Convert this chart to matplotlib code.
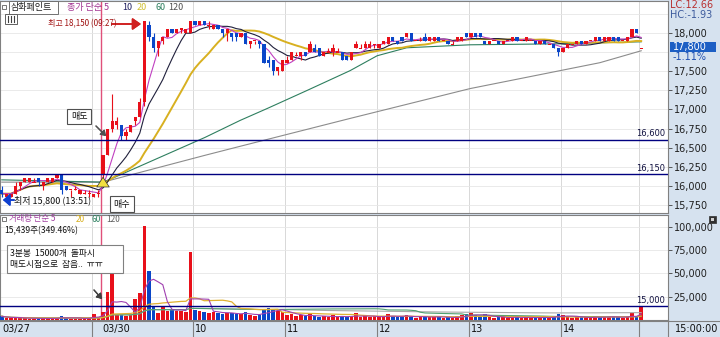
import matplotlib
matplotlib.use("Agg")
import matplotlib.pyplot as plt
import numpy as np
import pandas as pd
from matplotlib.patches import Rectangle
from matplotlib.lines import Line2D

plt.rcParams['font.family'] = ['Noto Sans CJK KR', 'DejaVu Sans']

# ---------------- data ----------------
# 03/27 (last bars of the previous session), 3-minute candles
d27_open  = [15950, 15850, 15850, 15900, 16000, 16050, 16050, 16050, 16100, 16000, 16050,
             16050, 16100, 16150, 16000, 15950, 15950, 15900, 15900, 15900, 15850, 15900]
d27_high  = [16000, 15900, 15900, 16050, 16050, 16100, 16100, 16100, 16100, 16050, 16100,
             16100, 16150, 16150, 16000, 15950, 16000, 15950, 15950, 15950, 15900, 15950]
d27_low   = [15850, 15800, 15850, 15900, 15950, 16050, 16050, 16050, 16000, 15950, 16050,
             16050, 16100, 15900, 15950, 15850, 15950, 15900, 15900, 15850, 15850, 15850]
d27_close = [15900, 15900, 15900, 16000, 16050, 16100, 16100, 16050, 16050, 16050, 16100,
             16100, 16150, 15950, 15950, 15950, 15950, 15950, 15900, 15900, 15900, 15900]
d27_vol   = [4000, 2500, 2000, 2500, 2000, 2000, 1500, 1500, 2000, 2000, 1500,
             1500, 2000, 4500, 2000, 1500, 1500, 1500, 2000, 2500, 6500, 3000]

# 03/30 session, 09:00 .. 15:00
d30_open = [16150, 16400, 16750, 16800, 16800, 16650, 16700, 16850, 16900, 17100,
            18100, 17950, 17800, 17900, 17950, 18050, 18000, 18050, 18000, 18000,
            18150, 18100, 18150, 18100, 18050, 18100, 18050, 18000, 18000, 18000,
            17950, 18000, 17850, 17900, 17900, 17850, 17650, 17650, 17500, 17500,
            17600, 17650, 17700, 17700, 17750, 17750, 17800, 17800, 17700, 17750,
            17750, 17750, 17750, 17700, 17650, 17800, 17800, 17800, 17800, 17850,
            17800, 17850, 17850, 17950, 17900, 17950, 17950, 18000, 17900, 17900,
            17950, 17900, 17900, 17950, 17900, 17900, 17850, 17900, 17900, 18000,
            17950, 18000, 18000, 17900, 17850, 17900, 17900, 17850, 17900, 17900,
            17950, 17900, 17900, 17900, 17900, 17850, 17900, 17850, 17850, 17800,
            17750, 17800, 17850, 17850, 17900, 17850, 17900, 17900, 17950, 17900,
            17900, 17950, 17950, 17900, 17900, 17950, 18050, 17800]
d30_high = [16400, 16750, 17200, 16900, 16800, 16750, 16800, 16900, 17150, 18150,
            18150, 18000, 17900, 17950, 18050, 18050, 18050, 18050, 18050, 18150,
            18150, 18150, 18150, 18150, 18100, 18100, 18050, 18050, 18000, 18000,
            18000, 18000, 17900, 17900, 17900, 17850, 17700, 17650, 17550, 17650,
            17700, 17750, 17750, 17750, 17750, 17900, 17850, 17800, 17750, 17800,
            17850, 17800, 17750, 17700, 17750, 17900, 17850, 17900, 17900, 17850,
            17850, 17900, 17950, 17950, 17900, 17950, 18000, 18000, 17900, 17950,
            18000, 17950, 17950, 17950, 17900, 17900, 17900, 17950, 17950, 18000,
            18000, 18000, 18000, 17900, 17900, 17900, 17900, 17900, 17900, 17950,
            17950, 17900, 17950, 17900, 17900, 17900, 17900, 17850, 17850, 17800,
            17800, 17850, 17850, 17900, 17900, 17900, 17900, 17950, 17950, 17950,
            17950, 17950, 17950, 17900, 17950, 18050, 18050, 17800]
d30_low  = [16050, 16400, 16700, 16750, 16600, 16600, 16700, 16800, 16900, 17050,
            17900, 17750, 17700, 17850, 17950, 18000, 18000, 18000, 18000, 18000,
            18100, 18100, 18100, 18050, 18050, 18050, 17950, 17900, 17900, 17900,
            17950, 17850, 17800, 17850, 17800, 17600, 17550, 17450, 17450, 17500,
            17600, 17650, 17700, 17650, 17700, 17750, 17750, 17700, 17700, 17750,
            17700, 17750, 17650, 17650, 17650, 17800, 17800, 17800, 17800, 17800,
            17800, 17850, 17850, 17900, 17850, 17900, 17950, 17900, 17900, 17900,
            17900, 17900, 17900, 17900, 17900, 17850, 17850, 17900, 17900, 17950,
            17950, 17950, 17950, 17850, 17850, 17900, 17850, 17850, 17900, 17900,
            17900, 17900, 17900, 17900, 17850, 17850, 17850, 17850, 17800, 17700,
            17750, 17800, 17850, 17850, 17850, 17850, 17900, 17900, 17900, 17900,
            17900, 17900, 17900, 17900, 17900, 17950, 18000, 17800]
d30_close = [16400, 16750, 16850, 16850, 16650, 16700, 16800, 16900, 17100, 18150,
             17950, 17800, 17900, 17950, 18050, 18000, 18050, 18050, 18050, 18150,
             18100, 18150, 18100, 18100, 18100, 18050, 18000, 18050, 17950, 17950,
             18000, 17850, 17900, 17900, 17850, 17600, 17600, 17500, 17550, 17650,
             17650, 17750, 17700, 17750, 17700, 17850, 17750, 17700, 17750, 17750,
             17800, 17750, 17650, 17650, 17750, 17850, 17800, 17850, 17850, 17850,
             17850, 17900, 17950, 17900, 17850, 17900, 18000, 17900, 17900, 17900,
             17900, 17950, 17950, 17900, 17900, 17850, 17850, 17950, 17950, 17950,
             18000, 17950, 17950, 17850, 17900, 17900, 17850, 17900, 17900, 17950,
             17900, 17900, 17950, 17900, 17850, 17900, 17850, 17850, 17800, 17750,
             17800, 17850, 17850, 17900, 17850, 17900, 17900, 17950, 17900, 17950,
             17950, 17900, 17900, 17900, 17950, 18050, 18000, 17800]
d30_vol = [9000, 30000, 49000, 5000, 6000, 4000, 5000, 22000, 29000, 101000,
           52000, 14000, 8000, 14000, 10000, 11000, 10000, 10000, 9000, 73000,
           11000, 10000, 9000, 8000, 9000, 8000, 6000, 8000, 7000, 6000,
           6000, 9000, 5000, 4000, 5000, 12000, 13000, 11000, 10000, 9000,
           5000, 6000, 4000, 5000, 4000, 6000, 4000, 3000, 4000, 3000,
           5000, 3000, 4000, 3000, 4000, 7000, 3000, 4000, 3000, 4000,
           4000, 3000, 6000, 4000, 3000, 4000, 5000, 4000, 2000, 3000,
           4000, 3000, 4000, 3000, 2000, 3000, 2000, 4000, 5000, 6000,
           7000, 5000, 4000, 6000, 3000, 2000, 3000, 3000, 2000, 4000,
           3000, 2000, 3000, 2000, 3000, 3000, 3000, 2000, 4000, 6000,
           5000, 4000, 2000, 3000, 3000, 3000, 2000, 4000, 3000, 3000,
           4000, 3000, 3000, 2000, 4000, 7500, 3000, 15439]

# long moving averages (bar index, price)
ma60_idx = [-22, 0, 2.6, 12.4, 22.2, 29.8, 35.7, 44.3, 53.7, 59.6, 66, 79.8, 99.3, 117]
ma60_val = [16080, 16050, 16115, 16375, 16635, 16856, 17012, 17246, 17506, 17701,
            17805, 17844, 17857, 17883]
ma120_idx = [-22, 0, 22.2, 29.8, 53.7, 79.8, 108, 117]
ma120_val = [16050, 16050, 16401, 16518, 16882, 17272, 17610, 17766]

price_ticks = [15750, 16000, 16250, 16500, 16750, 17000, 17250, 17500, 18000]
vol_ticks = [25000, 50000, 75000, 100000]
x_labels = ['03/27', '03/30', '10', '11', '12', '13', '14']
sell_price, buy_price, vol_line = 16600, 16150, 15000

# ---------------- layout helpers ----------------
W, H = 720, 337
def fx(x): return x / W
def fy(y): return 1 - y / H
X0, STEP = 103.0, 4.6          # pixel of bar 0 and bar spacing
def bpx(i): return X0 + STEP * i

RED, BLUE = '#e8101a', '#0a46c8'
BG = '#d6e2ef'

fig = plt.figure(figsize=(7.2, 3.37), dpi=100, facecolor=BG)
ax_p = fig.add_axes([0, fy(213), fx(668), 212 / H])
ax_v = fig.add_axes([0, fy(320), fx(668), 105 / H])

xs27 = np.arange(-len(d27_close), 0)
xs30 = np.arange(len(d30_close))
xs = np.concatenate([xs27, xs30])
O = np.array(d27_open + d30_open, float)
Hh = np.array(d27_high + d30_high, float)
L = np.array(d27_low + d30_low, float)
C = np.array(d27_close + d30_close, float)
V = np.array(d27_vol + d30_vol, float)
cols = [RED if c >= o else BLUE for o, c in zip(O, C)]

xlim = (-X0 / STEP, (668 - X0) / STEP)
for ax in (ax_p, ax_v):
    ax.set_facecolor('white')
    ax.set_xlim(*xlim)
    for s in ax.spines.values():
        s.set_color('#808080'); s.set_linewidth(0.8)
    ax.set_xticks([])
    ax.yaxis.tick_right()
    ax.tick_params(axis='y', direction='out', length=3, width=0.6, color='#404040',
                   labelsize=7, pad=1, labelcolor='#202020')
    ax.tick_params(axis='y', which='both', labelfontfamily='DejaVu Sans')
    for g in [-2.3, 19.5, 39.5, 59.5, 79.5, 99.5, 116.5]:
        ax.axvline(g, color='#d8d8d8', lw=0.7, zorder=0)
    ax.axvline(-0.5, color='#e0507a', lw=1.0, zorder=1)

# price panel
ax_p.set_ylim(18000 - (213 - 32) * 13.0, 18000 + 32 * 13.0)
for t in np.arange(15750, 18251, 250):
    ax_p.axhline(t, color='#e6e6e6', lw=0.6, zorder=0)
ax_p.set_yticks(price_ticks)
ax_p.set_yticklabels([f'{t:,}' for t in price_ticks])

ax_p.vlines(xs, L, Hh, colors=cols, lw=0.8, zorder=3)
bh = np.maximum(np.abs(C - O), 14)
bb = np.minimum(O, C) - np.where(C == O, 7, 0)
ax_p.bar(xs, bh, bottom=bb, width=0.72, color=cols, lw=0, zorder=4)

cs = pd.Series(C)
ax_p.plot(ma120_idx, ma120_val, color='#8c8c8c', lw=0.8, zorder=2)
ax_p.plot(ma60_idx, ma60_val, color='#2e7f5f', lw=0.8, zorder=2)
ax_p.plot(xs, cs.rolling(20, min_periods=1).mean(), color='#d8b020', lw=1.4, zorder=2)
ax_p.plot(xs, cs.rolling(10, min_periods=1).mean(), color='#20203c', lw=0.8, zorder=2)
ax_p.plot(xs, cs.rolling(5, min_periods=1).mean(), color='#c040c0', lw=0.8, zorder=2)

for lv in (sell_price, buy_price):
    ax_p.axhline(lv, color='#000080', lw=1.0, zorder=5)
    ax_p.text(xlim[1] - 0.6, lv + 25, f'{lv:,}', ha='right', va='bottom', fontsize=6,
              color='#101040', family='DejaVu Sans')

# buy marker arrow
ax_p.annotate('', xy=(0, buy_price), xytext=(0, 15960),
              arrowprops=dict(arrowstyle='simple,head_width=0.9,head_length=0.7,tail_width=0.45',
                              fc='#f2e040', ec='#303030', lw=0.5), zorder=6)

# volume panel
ax_v.set_ylim(0, 105 / 0.9333 * 1000)
for t in vol_ticks:
    ax_v.axhline(t, color='#e6e6e6', lw=0.6, zorder=0)
ax_v.set_yticks(vol_ticks)
ax_v.set_yticklabels([f'{t:,}' for t in vol_ticks])
ax_v.bar(xs, V, width=0.75, color=cols, lw=0, zorder=3)
vs = pd.Series(V)
ax_v.plot(xs, vs.rolling(120, min_periods=1).mean(), color='#a8a8a8', lw=0.8, zorder=4)
ax_v.plot(xs, vs.rolling(60, min_periods=1).mean(), color='#50a070', lw=0.8, zorder=4)
ax_v.plot(xs, vs.rolling(20, min_periods=1).mean(), color='#e0b030', lw=0.9, zorder=4)
ax_v.plot(xs, vs.rolling(5, min_periods=1).mean(), color='#a040b0', lw=0.8, zorder=4)
ax_v.axhline(vol_line, color='#000080', lw=1.0, zorder=5)
ax_v.text(xlim[1] - 0.6, vol_line + 600, f'{vol_line:,}', ha='right', va='bottom', fontsize=6,
          color='#101040', family='DejaVu Sans')

# ---------------- texts ----------------
def ftext(x, y, s, **kw):
    kw.setdefault('va', 'center'); kw.setdefault('ha', 'left')
    return fig.text(fx(x), fy(y), s, **kw)

def frect(x0, y0, x1, y1, **kw):
    r = Rectangle((fx(x0), fy(y1)), fx(x1) - fx(x0), fy(y0) - fy(y1),
                  transform=fig.transFigure, **kw)
    fig.add_artist(r)

def farrow(x0, y0, x1, y1, color, lw=0.8, hw=3.0, hl=5.0):
    fig.add_artist(plt.annotate('', xy=(fx(x1), fy(y1)), xytext=(fx(x0), fy(y0)),
                                xycoords='figure fraction', textcoords='figure fraction',
                                arrowprops=dict(arrowstyle=f'-|>,head_width={hw/10},head_length={hl/10}',
                                                color=color, lw=lw, shrinkA=0, shrinkB=0)))

# price legend
frect(2, 5, 6, 9, fill=False, ec='#606060', lw=0.6)
frect(9, 1, 58, 14, facecolor='white', ec='#707070', lw=0.7)
ftext(11, 7.5, '삼화페인트', fontsize=6.5, color='#202020')
ftext(67, 7.5, '종가 단순 5', fontsize=6.5, color='#a03090')
ftext(122, 7.5, '10', fontsize=6.5, color='#202060')
ftext(137, 7.5, '20', fontsize=6.5, color='#d0c030')
ftext(156, 7.5, '60', fontsize=6.5, color='#2e7f5f')
ftext(168, 7.5, '120', fontsize=6.5, color='#505050')
frect(5, 14, 17, 24, facecolor='white', ec='#606060', lw=0.7)
for xx in (8, 11, 14):
    fig.add_artist(Line2D([fx(xx), fx(xx)], [fy(16), fy(22)], color='#404040', lw=0.8))

# high / low annotations
ftext(48, 24, '최고 18,150 (09:27)', fontsize=5.8, color='#a01010')
farrow(112, 24, 141, 24, '#d02020', lw=1.2, hw=3.5, hl=5)
farrow(14, 200, 3, 200, '#1040d0', lw=1.2, hw=3.5, hl=4)
ftext(14, 200, '최저 15,800 (13:51)', fontsize=6.5, color='#101010')

# sell / buy boxes
frect(67, 109, 91, 124, facecolor='white', ec='#505050', lw=0.8)
ftext(79, 116.5, '매도', fontsize=6.5, ha='center', color='#101010')
farrow(96, 126, 106, 136, '#505050', lw=0.9, hw=2.0, hl=3.0)
frect(110, 196, 134, 212, facecolor='white', ec='#505050', lw=0.8)
ftext(122, 204, '매수', fontsize=6.5, ha='center', color='#101010')

# volume legend
frect(2, 217, 6, 221, fill=False, ec='#606060', lw=0.6)
ftext(9, 219, '거래량 단순 5', fontsize=6, color='#a040a0')
ftext(76, 219, '20', fontsize=6, color='#d8b020')
ftext(91, 219, '60', fontsize=6, color='#2e8060')
ftext(106, 219, '120', fontsize=6, color='#606060')
ftext(4, 231, '15,439주(349.46%)', fontsize=6.2, color='#101010')

frect(7, 245, 123, 273, facecolor='white', ec='#808080', lw=0.8)
ftext(10, 253.5, '3분봉  15000개  돌파시', fontsize=6.3, color='#101010')
ftext(10, 264.5, '매도시점으로  잡음..  ㅠㅠ', fontsize=6.3, color='#101010')
farrow(94, 290, 102, 299, '#404040', lw=0.9, hw=2.0, hl=3.0)

# right panel
ftext(670, 5, 'LC:12.66', fontsize=7, color='#b83030', family='DejaVu Sans')
ftext(670, 15, 'HC:-1.93', fontsize=7, color='#3c5a9c', family='DejaVu Sans')
frect(670, 42, 716, 52, facecolor='#1d5fc4', ec='none')
ftext(673, 47, '17,800', fontsize=7, color='white', family='DejaVu Sans')
ftext(673, 57.5, '-1.11%', fontsize=7, color='#2050b0', family='DejaVu Sans')
frect(709, 216, 716, 223, facecolor='#303030', ec='#303030', lw=0.5)
frect(711, 218, 714, 221, facecolor='#d0d0d0', ec='none')

# bottom time strip
for xp in [bpx(-2.3), bpx(19.5), bpx(39.5), bpx(59.5), bpx(79.5), bpx(99.5), bpx(116.5), 668]:
    fig.add_artist(Line2D([fx(xp), fx(xp)], [fy(337), fy(320)], color='#808080', lw=0.8))
fig.add_artist(Line2D([0, 1], [fy(320.5), fy(320.5)], color='#808080', lw=0.8))
for lab, xp in zip(x_labels, [2, bpx(-0.2), bpx(19.9), bpx(39.9), bpx(59.9), bpx(79.9), bpx(99.9)]):
    ftext(xp, 329, lab, fontsize=7, color='#101010', family='DejaVu Sans')
ftext(675, 329, '15:00:00', fontsize=7, color='#101010', family='DejaVu Sans')

fig.savefig('out.png', dpi=100, facecolor=BG)
